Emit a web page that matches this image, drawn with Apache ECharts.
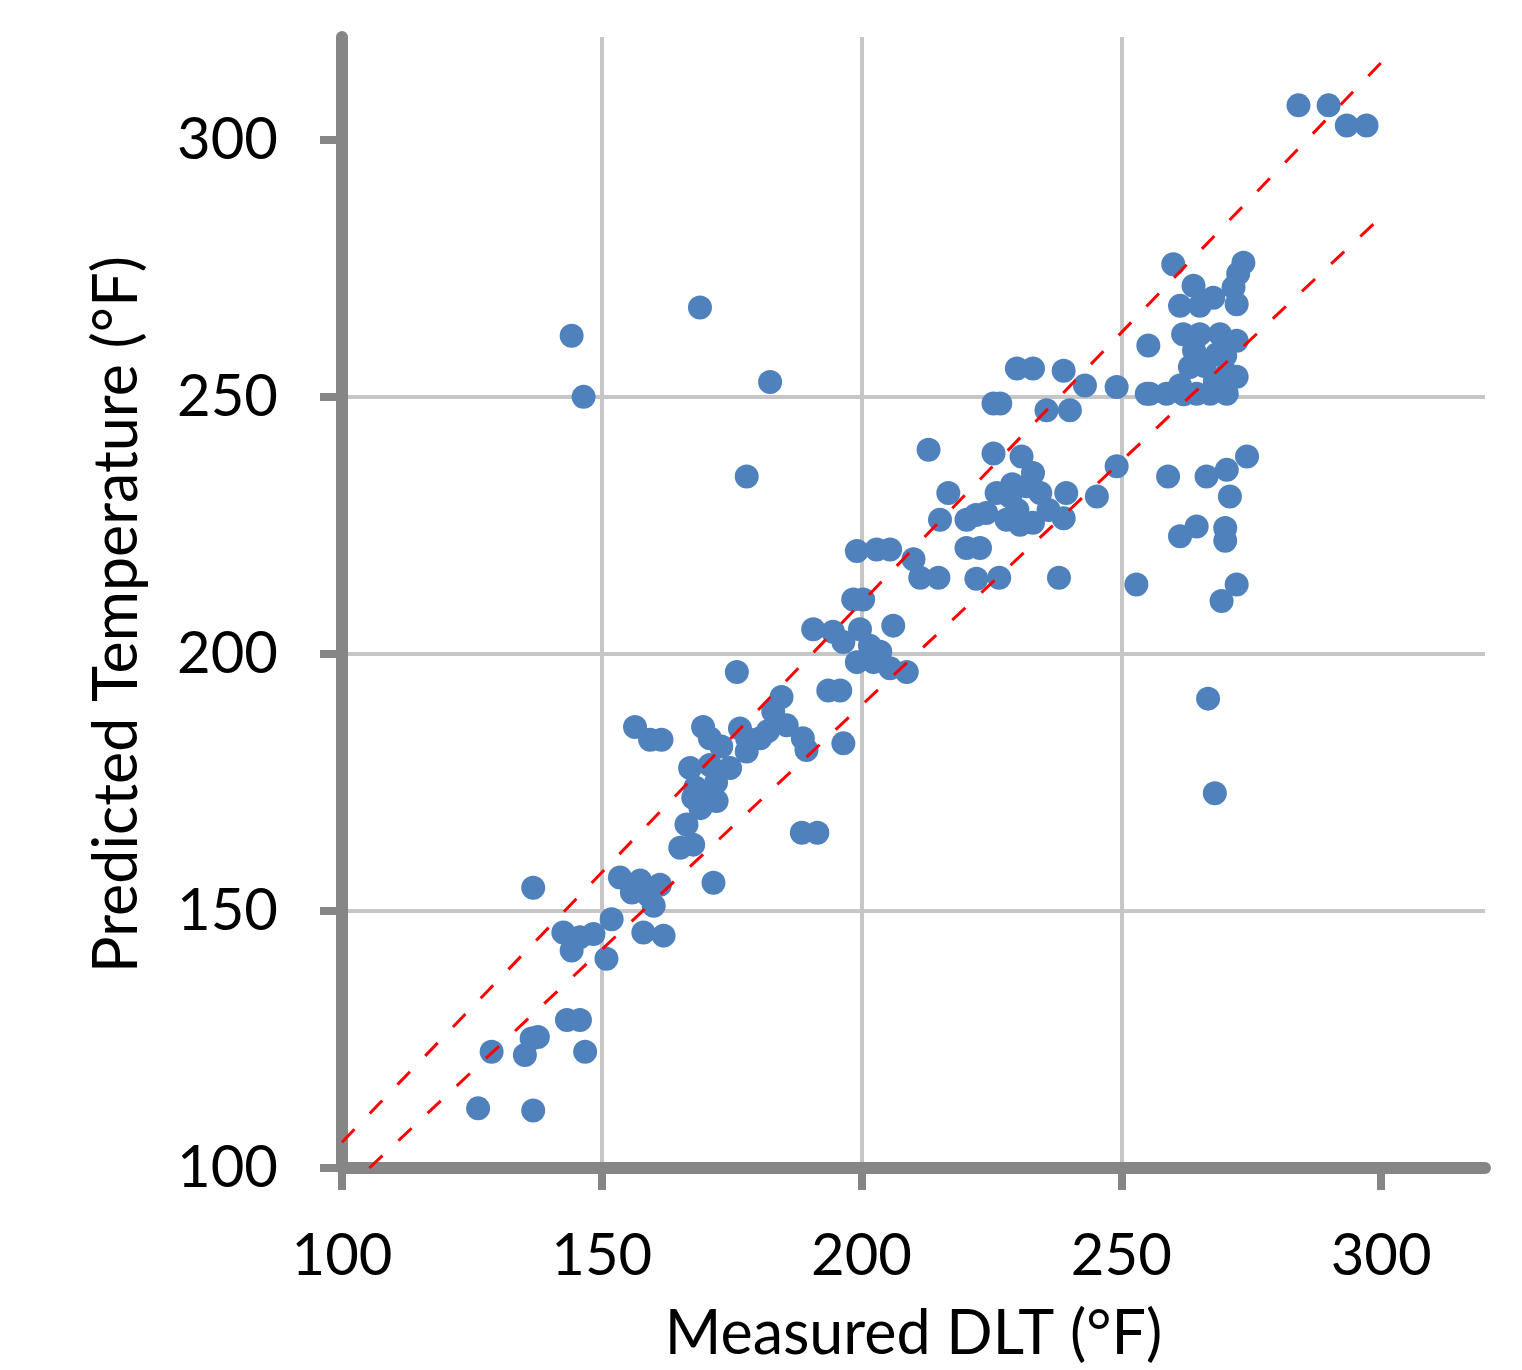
<!DOCTYPE html>
<html>
<head>
<meta charset="utf-8">
<title>Measured vs Predicted</title>
<script src="https://cdn.jsdelivr.net/npm/echarts@6/dist/echarts.min.js"></script>
<style>
    body {margin: 0; background: #fff;}
    #chart {width: 1522px; height: 1370px;}
</style>
</head>
<body>
<div id="chart"></div>
<script>
// measured DLT (x) and predicted temperature (y)
var measuredDLT = [
    126.2, 136.8, 128.8, 135.2, 136.5, 137.7, 143.3, 145.8, 146.8,
    142.6, 144.2, 145.8, 148.4, 150.9, 151.9, 158.0, 161.9, 136.8, 160.0, 171.5,
    153.5, 157.4, 161.2, 155.8, 156.0, 159.0,
    165.1, 167.6, 166.3, 167.6, 170.2, 172.1, 169.0, 167.0, 170.8, 174.7, 177.9,
    170.8, 176.6, 169.5, 180.5, 185.6, 188.7, 189.4, 183.0, 184.6, 176.0,
    173.0, 178.0, 182.0, 172.0, 168.0,
    156.4, 159.3, 161.5, 188.5, 191.5, 196.5, 193.6, 195.9,
    190.7, 194.5, 199.7, 206.1, 196.5, 201.6, 203.6, 199.1, 202.3, 208.7, 205.5,
    198.4, 200.3,
    199.1, 202.9, 205.5, 210.0, 211.3, 214.8, 220.2, 222.8, 222.1, 226.5, 238.0, 252.9,
    215.1, 220.2, 224.0, 227.9, 233.0, 238.9, 230.5, 230.0, 236.0, 222.0, 229.0,
    216.7, 226.0, 228.6, 231.8, 233.0, 234.4, 239.4, 245.3, 212.9, 225.4, 230.8, 249.1,
    229.9, 233.0, 238.9, 243.0, 249.1, 254.9, 225.4, 226.7, 235.6, 240.1,
    260.0, 273.5, 272.5, 263.9, 271.6, 261.3, 265.1, 267.7, 272.2,
    255.2, 261.9, 265.1, 269.0, 272.2, 268.4, 263.2, 270.3, 272.2,
    266.0, 268.0, 264.0, 270.0, 262.0, 264.5,
    255.5, 258.7, 261.3, 267.1, 270.3,
    259.0, 266.4, 270.3, 274.2, 270.9, 261.3, 264.5, 270.0, 270.0, 272.2, 269.3,
    266.7, 268.0,
    144.2, 146.5, 168.9, 182.4, 177.9,
    284.1, 289.9, 293.4, 297.2
];
var predictedTemp = [
    111.6, 111.2, 122.6, 122.0, 125.2, 125.5, 128.8, 128.8, 122.6,
    145.8, 142.3, 144.9, 145.5, 140.7, 148.4, 145.8, 145.2, 154.5, 151.0, 155.5,
    156.5, 155.9, 155.1, 153.6, 155.0, 153.0,
    162.3, 162.9, 166.8, 172.0, 172.6, 171.4, 170.0, 177.8, 178.4, 177.8, 181.0,
    183.6, 185.5, 185.8, 183.6, 186.1, 183.6, 181.3, 188.8, 191.6, 196.5,
    182.0, 183.5, 185.0, 175.0, 174.0,
    185.8, 183.3, 183.3, 165.2, 165.2, 182.6, 192.9, 192.9,
    204.8, 204.3, 204.8, 205.5, 202.3, 201.6, 200.4, 198.4, 198.4, 196.5, 197.2,
    210.6, 210.6,
    220.0, 220.3, 220.3, 218.4, 214.8, 214.8, 220.6, 220.6, 214.6, 214.8, 214.8, 213.5,
    226.1, 226.1, 227.4, 226.1, 225.5, 226.4, 225.1, 228.0, 228.0, 227.0, 233.0,
    231.3, 231.3, 230.6, 232.6, 235.2, 231.3, 231.3, 230.6, 239.7, 239.0, 238.4, 236.5,
    255.5, 255.5, 255.1, 252.2, 251.9, 250.6, 248.7, 248.7, 247.4, 247.4,
    275.8, 276.1, 274.0, 271.6, 271.3, 267.7, 267.7, 269.3, 268.0,
    260.0, 262.2, 262.2, 262.2, 260.9, 258.3, 255.8, 254.5, 253.9,
    256.0, 253.0, 259.0, 258.0, 250.5, 250.6,
    250.6, 250.6, 252.2, 250.6, 250.6,
    234.5, 234.5, 235.8, 238.4, 230.6, 222.9, 224.8, 224.5, 222.0, 213.5, 210.3,
    191.3, 172.9,
    261.9, 250.0, 267.4, 252.9, 234.5,
    306.7, 306.7, 302.8, 302.8
];

// +/- 5% bounds
var upperBound = [[100, 105], [300, 315]];
var lowerBound = [[105.26, 100], [300, 285]];

var xTicks = [100, 150, 200, 250, 300];
var yTicks = [100, 150, 200, 250, 300];

var points = [];
for (var i = 0; i < measuredDLT.length; i++) {
    points.push([measuredDLT[i], predictedTemp[i]]);
}

var font = 'Lato';
var axisGrey = '#868686';
var gridGrey = '#c6c6c6';

var chart = echarts.init(document.getElementById('chart'));
var option = {
    animation: false,
    backgroundColor: '#fff',
    grid: {left: 342, right: 37, top: 37, bottom: 198, containLabel: false},
    xAxis: {
        type: 'value',
        min: 100,
        max: 320,
        interval: 50,
        name: 'Measured DLT (°F)',
        nameLocation: 'middle',
        nameGap: 136,
        nameTextStyle: {fontFamily: font, fontSize: 61, color: '#000'},
        axisLine: {show: true, onZero: false, lineStyle: {color: axisGrey, width: 12}},
        axisTick: {show: true, length: 22, customValues: xTicks, lineStyle: {color: axisGrey, width: 8}},
        axisLabel: {customValues: xTicks, fontFamily: font, fontSize: 58, color: '#000', margin: 59},
        splitLine: {show: true, showMaxLine: false, lineStyle: {color: gridGrey, width: 4}}
    },
    yAxis: {
        type: 'value',
        min: 100,
        max: 320,
        interval: 50,
        name: 'Predicted Temperature (°F)',
        nameLocation: 'middle',
        nameGap: 194,
        // right padding nudges the rotated title a little lower
        nameTextStyle: {fontFamily: font, fontSize: 61, color: '#000', padding: [0, 24, 0, 0]},
        axisLine: {show: true, onZero: false, lineStyle: {color: axisGrey, width: 12}},
        axisTick: {show: true, length: 22, customValues: yTicks, lineStyle: {color: axisGrey, width: 8}},
        axisLabel: {customValues: yTicks, fontFamily: font, fontSize: 58, color: '#000', margin: 64},
        splitLine: {show: true, showMaxLine: false, lineStyle: {color: gridGrey, width: 4}}
    },
    series: [
        {
            name: 'data',
            type: 'scatter',
            symbol: 'circle',
            symbolSize: 24,
            itemStyle: {color: '#4f81bd', opacity: 1},
            data: points
        },
        {
            name: 'upper',
            type: 'line',
            symbol: 'none',
            lineStyle: {color: '#ff0000', width: 3, type: [18, 22]},
            data: upperBound
        },
        {
            name: 'lower',
            type: 'line',
            symbol: 'none',
            lineStyle: {color: '#ff0000', width: 3, type: [18, 22]},
            data: lowerBound
        }
    ]
};
chart.setOption(option);
</script>
</body>
</html>
